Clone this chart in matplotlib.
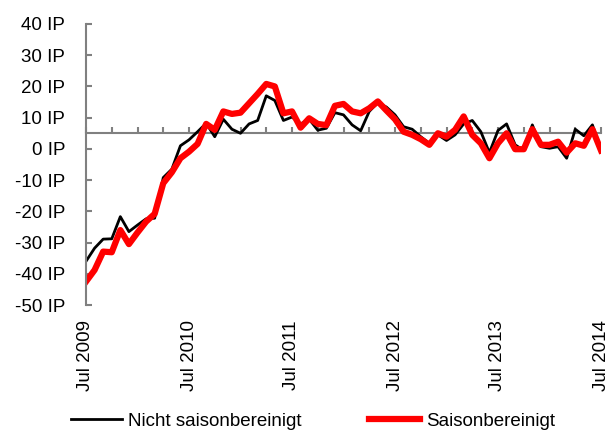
# Chart: IP index, not seasonally adjusted vs. seasonally adjusted, Jul 2009 - Jul 2014

import numpy as np
import matplotlib.pyplot as plt

plt.rcParams['font.family'] = ['Liberation Sans', 'DejaVu Sans']
plt.rcParams['font.size'] = 13.5

# DATA (monthly, Jul 2009 .. Jul 2014)

nicht_saisonbereinigt = [
    -36.0, -31.8, -28.9, -28.8, -21.7, -26.5, -24.4, -22.4, -22.2, -9.2, -6.5, 1.0,
    2.9, 5.5, 8.2, 3.9, 9.5, 6.3, 5.0, 8.0, 9.1, 17.0, 15.5, 9.1,
    10.2, 8.0, 9.5, 6.0, 6.6, 11.6, 10.9, 7.7, 5.8, 12.0, 14.8, 13.4,
    10.9, 7.1, 6.3, 3.9, 1.8, 4.5, 2.7, 4.5, 8.0, 9.1, 5.5, -1.2,
    5.9, 8.0, 1.3, -0.5, 7.7, 0.7, 0.2, 0.7, -3.0, 6.3, 4.2, 7.7,
    -0.5,
]
saisonbereinigt = [
    -42.5, -38.8, -32.9, -33.1, -26.0, -30.5, -26.8, -23.3, -20.8, -11.0, -7.5, -3.0,
    -0.9, 1.6, 8.0, 6.1, 12.0, 11.2, 11.6, 14.6, 17.6, 20.8, 20.0, 11.4,
    12.0, 6.8, 9.8, 8.0, 7.6, 13.8, 14.4, 12.0, 11.4, 13.0, 15.2, 12.3,
    9.5, 5.5, 4.5, 3.1, 1.3, 5.0, 3.9, 6.1, 10.4, 4.5, 1.8, -3.0,
    1.8, 5.0, -0.1, -0.1, 6.3, 1.3, 1.3, 2.3, -1.2, 1.8, 1.0, 6.3,
    -0.5,
]
x_labels = ['Jul 2009', 'Jul 2010', 'Jul 2011', 'Jul 2012', 'Jul 2013', 'Jul 2014']
y_values = [40, 30, 20, 10, 0, -10, -20, -30, -40, -50]
axis_cross = 5

# PLOT

months = np.arange(len(saisonbereinigt))
grey = '#808080'

fig = plt.figure(figsize=(6.07, 4.30), dpi=100)
ax = fig.add_axes([86/607, 1 - 305/430, 515/607, 281/430])

ax.plot(months, nicht_saisonbereinigt, color='black', lw=2, label='Nicht saisonbereinigt')
ax.plot(months, saisonbereinigt, color='#ff0000', lw=4.5, label='Saisonbereinigt')

ax.set_xlim(0, len(months) - 1)
ax.set_ylim(-50, 40)

# Spines: y axis on the left, x axis crossing at 5
ax.spines['top'].set_visible(False)
ax.spines['right'].set_visible(False)
ax.spines['left'].set_color(grey)
ax.spines['left'].set_linewidth(1.5)
ax.spines['bottom'].set_position(('data', axis_cross))
ax.spines['bottom'].set_color(grey)
ax.spines['bottom'].set_linewidth(1.5)
ax.spines['bottom'].set_zorder(1)

ax.set_yticks(y_values)
ax.set_yticklabels([f'{v} IP' for v in y_values])
ax.tick_params(axis='y', direction='in', length=4, width=1.5, color=grey, pad=15)

ax.set_xticks(months[::12])
ax.set_xticks(months[::3], minor=True)
ax.tick_params(axis='x', which='both', direction='in', length=4, width=1.5,
               color=grey, labelbottom=False)

# Date labels below the plot area
sec = ax.secondary_xaxis(0)
sec.set_xticks(months[::12])
sec.set_xticklabels(x_labels, rotation=90, va='top', ha='center')
sec.tick_params(length=0, pad=11)
sec.spines['bottom'].set_visible(False)

fig.legend(loc='center left', bbox_to_anchor=(71/607, 0.02), ncol=2, frameon=False,
           handlelength=2.72, handletextpad=0.32, columnspacing=3.6,
           borderpad=0, borderaxespad=0)

fig.savefig('out.png', dpi=100)
